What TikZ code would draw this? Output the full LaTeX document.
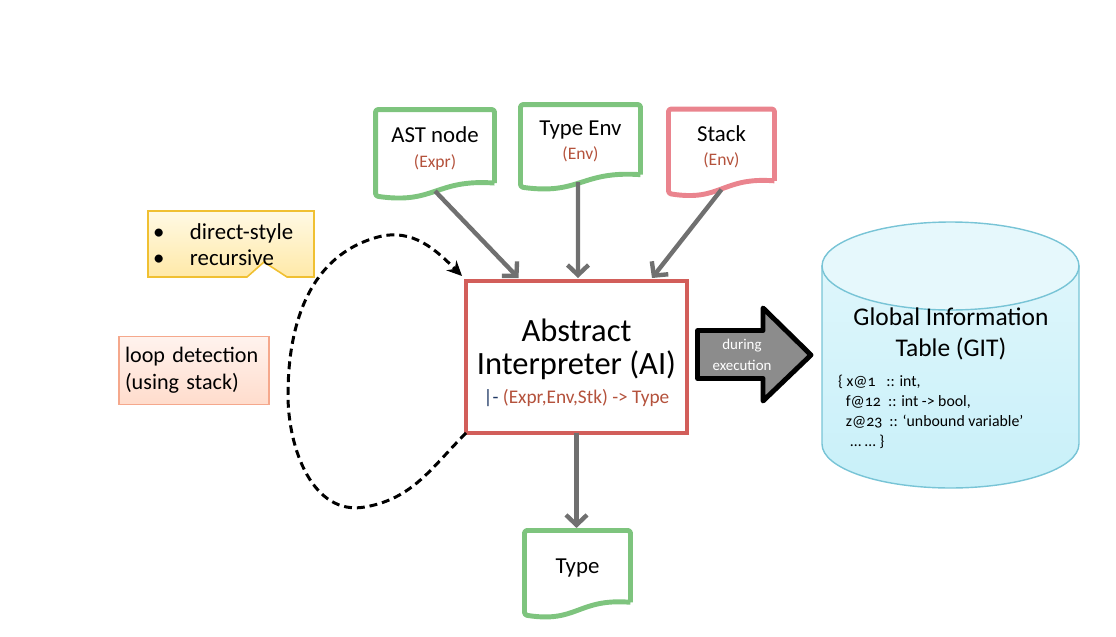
\documentclass[tikz,border=0pt]{standalone}
\usepackage{fontspec}
\setmainfont{Carlito}
\newfontfamily\gitfont[Numbers=OldStyle]{Carlito}
\usetikzlibrary{positioning,calc,arrows.meta}
\definecolor{docgreen}{RGB}{126,196,126}
\definecolor{stackpink}{RGB}{234,132,142}
\definecolor{aired}{RGB}{210,94,90}
\definecolor{flowgrey}{RGB}{112,112,112}
\definecolor{labelred}{RGB}{180,82,60}
\definecolor{sigblue}{RGB}{31,56,100}
\definecolor{execgrey}{RGB}{140,140,140}
\definecolor{gitline}{RGB}{120,196,214}
\definecolor{gittop}{RGB}{230,248,252}
\definecolor{gitbodytop}{RGB}{222,246,251}
\definecolor{gitbodybottom}{RGB}{200,240,249}
\definecolor{calloutline}{RGB}{240,192,50}
\definecolor{callouttop}{RGB}{255,249,228}
\definecolor{calloutbottom}{RGB}{255,233,168}
\definecolor{loopborder}{RGB}{245,168,140}
\definecolor{looptop}{RGB}{255,243,238}
\definecolor{loopbottom}{RGB}{255,220,204}
\newcommand{\sublabel}[1]{{\fontsize{10}{12}\selectfont\color{labelred}#1}}
\newcommand{\docframe}[2]{%
  \draw[doc line,draw=#2] let \p1=(#1.south west), \p2=(#1.north east),
    \n1={\x2-\x1}, \n2={\y2-\y1+0.18cm} in
    (\x2,{\y1-0.18cm+0.15*\n2}) -- (\x2,\y2) -- (\x1,\y2) -- (\x1,{\y1-0.18cm})
    .. controls ({\x1+0.5*\n1},{\y1-0.18cm-0.1*\n2}) and ({\x1+0.5*\n1},{\y1-0.18cm+0.2*\n2}) ..
    (\x2,{\y1-0.18cm+0.15*\n2});}

\begin{document}
\begin{tikzpicture}[x=0.02cm, y=0.02cm, node distance=4.2cm,
  main node/.style={inner sep=0pt, outer sep=0pt, align=center},
  doc node/.style={main node, font=\fontsize{13}{14}\selectfont},
  doc line/.style={line width=2.8pt, rounded corners=1.5pt, line join=round},
  flow/.style={draw=flowgrey, line width=2.5pt, -{Straight Barb[length=2mm,width=4.2mm]}},
  loop line/.style={line width=1.7pt, dash pattern=on 4.5pt off 2.8pt, -{Stealth[length=3mm,width=2.8mm]}}]
  \useasboundingbox (0,0) rectangle (1116,-636);

  \node[main node, draw=aired, line width=2.8pt, minimum width=4.42cm, minimum height=3.04cm,
        font=\fontsize{18.5}{19}\selectfont] (ai) at (576.5,-357)
        {\rule{0pt}{19pt}Abstract\\Interpreter (AI)\\[-2.7pt]{\fontsize{11}{13}\selectfont\color{sigblue}|- \color{labelred}(Expr,Env,Stk) -> Type}};

  \node[doc node, minimum width=2.38cm, minimum height=1.55cm] (ast) [above of=ai, xshift=-2.83cm, yshift=-0.025cm] {AST node\\\sublabel{(Expr)}};
  \node[doc node, minimum width=2.4cm, minimum height=1.47cm] (typeenv) [above of=ai, xshift=0.08cm, yshift=0.115cm] {Type Env\\\sublabel{(Env)}};
  \node[doc node, minimum width=2.12cm, minimum height=1.51cm] (stack) [above of=ai, xshift=2.9cm, yshift=0.005cm] {Stack\\\sublabel{(Env)}};
  \node[doc node, minimum width=2.12cm, minimum height=1.51cm] (result) [below of=ai, xshift=0.02cm, yshift=-0.025cm] {Type};

  \docframe{ast}{docgreen}
  \docframe{typeenv}{docgreen}
  \docframe{stack}{stackpink}
  \docframe{result}{docgreen}

  \draw[flow] ([yshift=-0.08cm]ast.south) -- ($(ai.north)+(-58,3)$);
  \draw[flow] ($(typeenv.south)+(-2.5,-4)$) -- ($(ai.north)+(1.5,3)$);
  \draw[flow] ([yshift=-0.1cm]stack.south) -- ($(ai.north)+(75.5,3)$);
  \draw[flow] (ai.south) -- ([yshift=0.05cm]ai.south |- result.north);

  % block arrow towards the table
  \draw[line width=2.8pt, line join=round, fill=execgrey] (697.5,-330.5) -- (763,-330.5) -- (763,-308)
    -- (811,-355) -- (763,-401) -- (763,-378.5) -- (697.5,-378.5) -- cycle;
  \node[main node, text=white, font=\fontsize{8.5}{12}\selectfont] (exec) at (742,-355) {during\\execution};

  % the table
  \path[draw=gitline, line width=0.8pt, top color=gitbodytop, bottom color=gitbodybottom]
    (822,-266) -- (822,-444) arc[start angle=180, end angle=360, x radius=2.57cm, y radius=0.88cm] -- (1079,-266) -- cycle;
  \draw[draw=gitline, line width=0.8pt, fill=gittop] (950.5,-266) ellipse [x radius=2.57cm, y radius=0.88cm];
  \node[main node, font=\fontsize{14.5}{18}\selectfont] (gittitle) at (951,-334) {Global Information\\Table (GIT)};
  \node[main node, anchor=west, align=left, font=\gitfont\fontsize{9}{11.3}\selectfont] (gitrows) at (838,-412)
    {\{ x@1\ \ \ :: int,\\\hspace*{4.5pt}f@12\ \ :: int -> bool,\\\hspace*{4.5pt}z@23\ \ :: ‘unbound variable’\\\hspace*{7pt}… … \}};

  % notes on the left
  \draw[draw=calloutline, line width=0.9pt, top color=callouttop, bottom color=calloutbottom]
    (148,-211) -- (314,-211) -- (314,-277) -- (287,-277) -- (264,-262) -- (247,-277) -- (148,-277) -- cycle;
  \node[main node, anchor=west, align=left, font=\fontsize{13}{14.7}\selectfont] (style) at (153,-245)
    {\makebox[0.74cm][l]{\textbullet}direct-style\\\makebox[0.74cm][l]{\textbullet}recursive};
  \node[main node, draw=loopborder, line width=0.9pt, top color=looptop, bottom color=loopbottom,
        minimum width=3cm, minimum height=1.36cm, text width=2.76cm, inner xsep=0.12cm, align=left,
        font=\fontsize{12.6}{15.3}\selectfont] (loopnote) at (194,-370.5) {loop detection\\(using stack)};

  \draw[loop line] (ai.south west) to[out=225,in=10] (365,-507) to[out=190,in=270] (288,-395)
    to[out=90,in=195] (378,-237) to[out=15,in=135] ([shift={(-4,5)}]ai.north west);
\end{tikzpicture}
\end{document}
